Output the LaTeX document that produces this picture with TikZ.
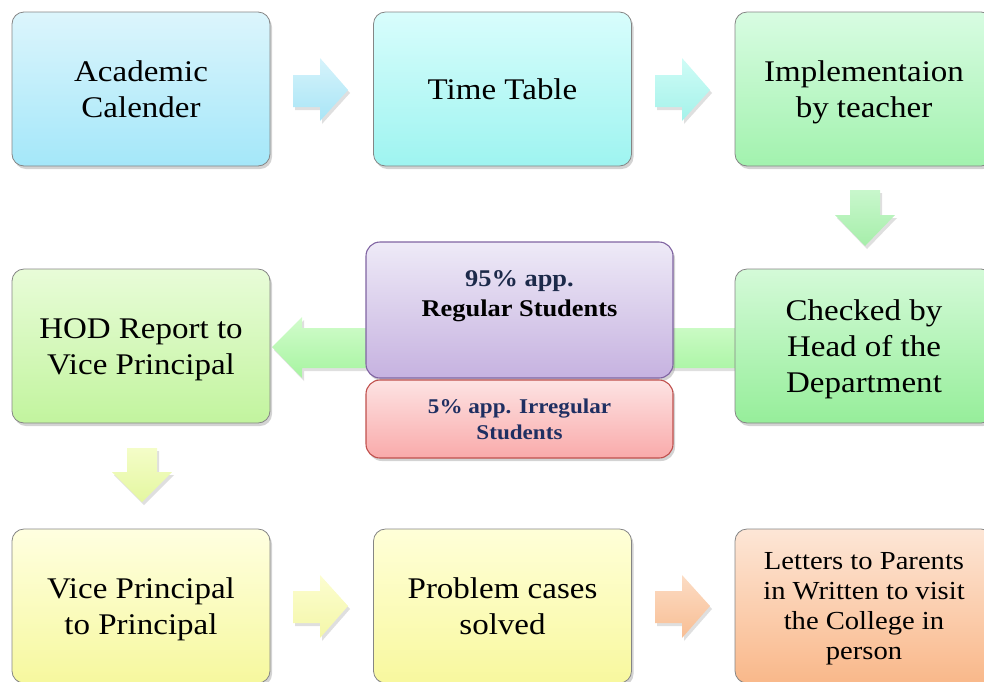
\documentclass[tikz,border=0pt]{standalone}
\usepackage{fontspec}
\setmainfont{Liberation Serif}[FakeStretch=1.1]
\usetikzlibrary{shadows}
\definecolor{bordergray}{HTML}{858585}
\definecolor{navytext}{HTML}{1C2A4A}
\definecolor{navytextb}{HTML}{1F2F62}
\newcommand\lstrut{\rule[-0.216em]{0pt}{1.107em}}
\tikzset{
  box/.style={rectangle, rounded corners=12pt, minimum width=258pt, minimum height=154pt,
    draw=bordergray, line width=0.8pt, align=center, text=black,
    font=\fontsize{30}{36}\selectfont,
    drop shadow={opacity=0.35, shadow xshift=2pt, shadow yshift=-3pt}},
  smallbox/.style={box, font=\fontsize{26}{30}\selectfont},
  blockarrow/.style={draw=none, drop shadow={opacity=0.25, shadow xshift=2pt, shadow yshift=-3pt}},
  midbox/.style={rectangle, rounded corners=14pt, minimum width=307pt, align=center, line width=1.1pt,
    drop shadow={opacity=0.35, shadow xshift=2pt, shadow yshift=-3pt}},
}
\begin{document}
\begin{tikzpicture}[x=1pt,y=-1pt]
\useasboundingbox (0,0) rectangle (984,681);
\clip (0,0) rectangle (984,681);

% block arrows
\path[blockarrow, top color={rgb,255:red,214;green,243;blue,251}, bottom color={rgb,255:red,168;green,229;blue,246}]
  (293,75) -- (320,75) -- (320,58) -- (348,90) -- (320,121) -- (320,107) -- (293,107) -- cycle;
\path[blockarrow, top color={rgb,255:red,207;green,252;blue,246}, bottom color={rgb,255:red,164;green,242;blue,234}]
  (655,75) -- (682,75) -- (682,58) -- (710,90) -- (682,121) -- (682,107) -- (655,107) -- cycle;
\path[blockarrow, top color={rgb,255:red,200;green,247;blue,204}, bottom color={rgb,255:red,166;green,238;blue,170}]
  (850,190) -- (880,190) -- (880,215) -- (895,215) -- (865,246) -- (835,215) -- (850,215) -- cycle;
\path[blockarrow, top color={rgb,255:red,210;green,252;blue,204}, bottom color={rgb,255:red,166;green,244;blue,160}]
  (272,347) -- (302,317) -- (302,328) -- (740,328) -- (740,368) -- (302,368) -- (302,378) -- cycle;
\path[blockarrow, top color={rgb,255:red,244;green,253;blue,200}, bottom color={rgb,255:red,228;green,247;blue,160}]
  (127,448) -- (157,448) -- (157,472) -- (172,472) -- (142,502) -- (112,472) -- (127,472) -- cycle;
\path[blockarrow, top color={rgb,255:red,252;green,253;blue,208}, bottom color={rgb,255:red,244;green,247;blue,168}]
  (293,591) -- (320,591) -- (320,575) -- (348,606) -- (320,638) -- (320,623) -- (293,623) -- cycle;
\path[blockarrow, top color={rgb,255:red,252;green,220;blue,196}, bottom color={rgb,255:red,248;green,190;blue,148}]
  (655,591) -- (682,591) -- (682,575) -- (710,606) -- (682,638) -- (682,623) -- (655,623) -- cycle;

% boxes
\node[box, top color={rgb,255:red,220;green,245;blue,252}, bottom color={rgb,255:red,164;green,231;blue,249}]
  (cal) at (141,89) {\lstrut Academic\\\lstrut Calender};
\node[box, top color={rgb,255:red,216;green,253;blue,252}, bottom color={rgb,255:red,158;green,244;blue,240}]
  (tt) at (502.5,89) {\lstrut Time Table};
\node[box, top color={rgb,255:red,216;green,252;blue,226}, bottom color={rgb,255:red,162;green,242;blue,174}]
  (impl) at (864,89) {\lstrut Implementaion\\\lstrut by teacher};
\node[box, top color={rgb,255:red,212;green,250;blue,216}, bottom color={rgb,255:red,150;green,238;blue,154}]
  (chk) at (864,346) {\lstrut Checked by\\\lstrut Head of the\\\lstrut Department};
\node[box, top color={rgb,255:red,232;green,252;blue,216}, bottom color={rgb,255:red,194;green,244;blue,158}]
  (hod) at (141,346) {\lstrut HOD Report to\\\lstrut Vice Principal};
\node[box, top color={rgb,255:red,255;green,255;blue,224}, bottom color={rgb,255:red,246;green,248;blue,158}]
  (vp) at (141,606) {\lstrut Vice Principal\\\lstrut to Principal};
\node[box, top color={rgb,255:red,255;green,255;blue,216}, bottom color={rgb,255:red,248;green,248;blue,158}]
  (prob) at (502.5,606) {\lstrut Problem cases\\\lstrut solved};
\node[smallbox, top color={rgb,255:red,253;green,230;blue,214}, bottom color={rgb,255:red,249;green,184;blue,138}]
  (let) at (864,606) {\lstrut Letters to Parents\\\lstrut in Written to visit\\\lstrut the College in\\\lstrut person};

% middle boxes
\node[midbox, minimum height=136pt, draw={rgb,255:red,128;green,100;blue,162},
  top color={rgb,255:red,238;green,234;blue,247}, bottom color={rgb,255:red,198;green,178;blue,224}]
  (reg) at (519.5,310) {};
\node[font=\bfseries\fontsize{24}{30}\selectfont, align=center] (reglabel) at (519.5,296)
  {\textcolor{navytext}{95\% app.}\\Regular Students};
\node[midbox, minimum height=78pt, draw={rgb,255:red,192;green,80;blue,77},
  top color={rgb,255:red,253;green,227;blue,227}, bottom color={rgb,255:red,249;green,170;blue,170},
  font=\bfseries\fontsize{21}{26}\selectfont, text=navytextb]
  (irr) at (519.5,419) {\lstrut 5\% app. Irregular\\\lstrut Students};
\end{tikzpicture}
\end{document}
